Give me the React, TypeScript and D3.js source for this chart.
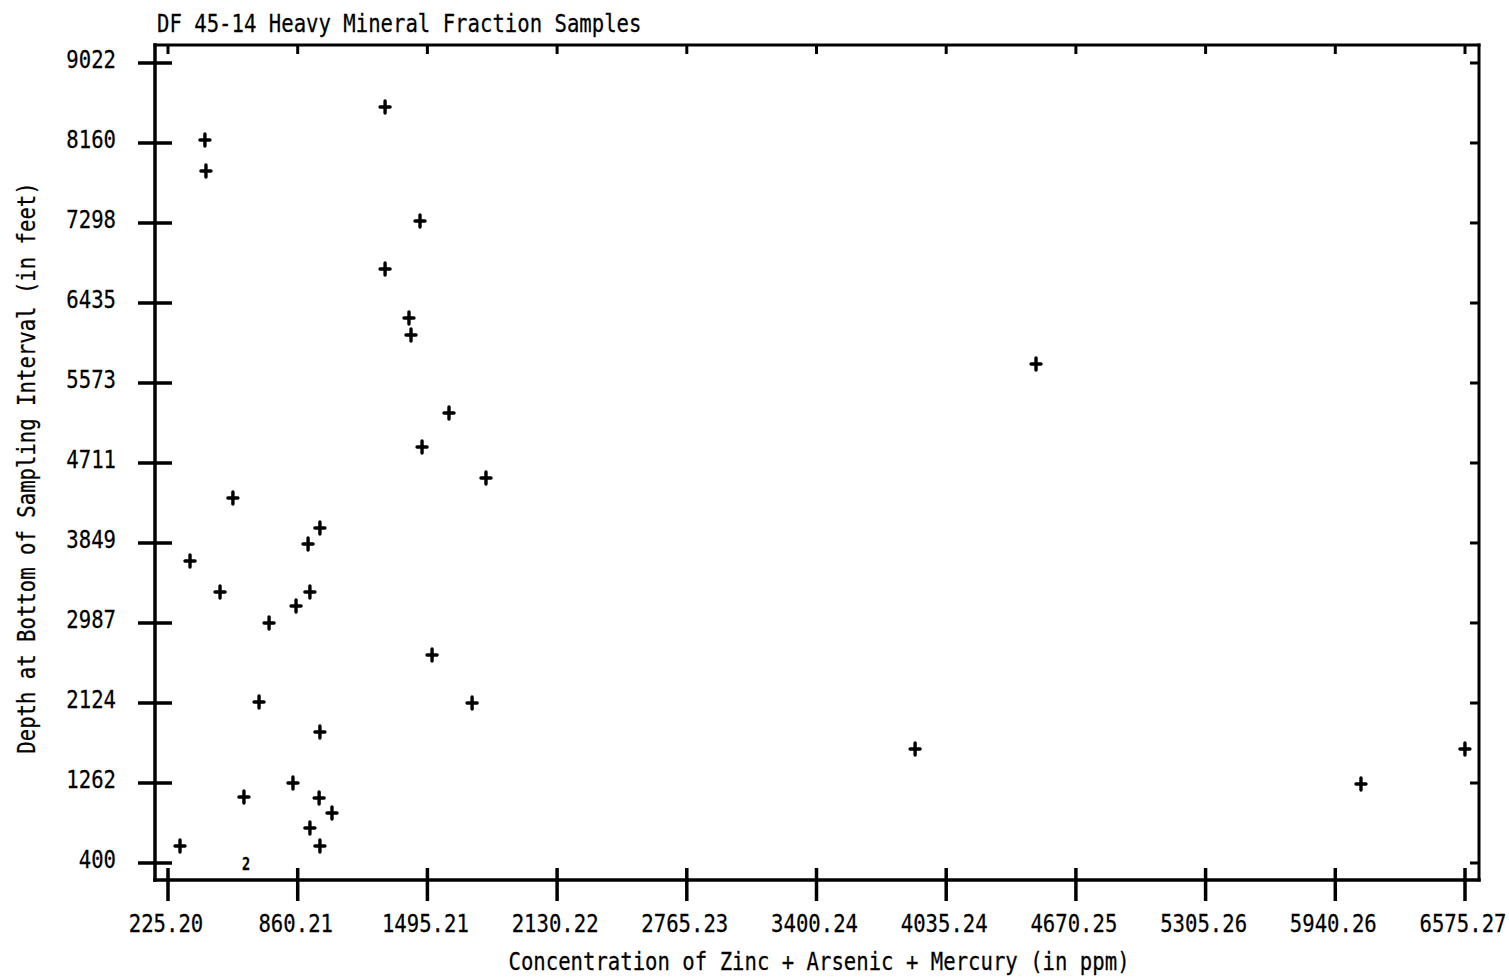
import React from "react";
import * as d3 from "d3";

const title = "DF 45-14 Heavy Mineral Fraction Samples";
const xTitle = "Concentration of Zinc + Arsenic + Mercury (in ppm)";
const yTitle = "Depth at Bottom of Sampling Interval (in feet)";

const xTickValues = [225.2, 860.21, 1495.21, 2130.22, 2765.23, 3400.24, 4035.24, 4670.25, 5305.26, 5940.26, 6575.27];
const xTickLabels = ["225.20", "860.21", "1495.21", "2130.22", "2765.23", "3400.24", "4035.24", "4670.25", "5305.26", "5940.26", "6575.27"];
const yTickValues = [400, 1262, 2124, 2987, 3849, 4711, 5573, 6435, 7298, 8160, 9022];

// sample concentrations (ppm) and depths (feet)
const concentration = [
  406, 411, 1288, 1459, 1288, 1405, 1415, 4475, 1601, 1469, 1782,
  543, 969, 911, 333, 480, 920, 852, 720, 1518, 671, 1714,
  969, 3883, 6575, 837, 6066, 597, 965, 1028, 920, 284, 969,
];
const depth = [
  8192, 7858, 8548, 7319, 6802, 6274, 6091, 5778, 5250, 4883, 4549,
  4334, 4010, 3838, 3655, 3321, 3321, 3170, 2987, 2642, 2135, 2124,
  1812, 1629, 1629, 1262, 1251, 1111, 1101, 939, 777, 583, 583,
];
// overlapping points shown as a count
const overlapConc = [607];
const overlapDepth = [400];
const overlapCount = ["2"];

const FONT = "'DejaVu Sans Mono', monospace";

function T({ x, y, anchor = "start", size = 24, sx = 0.86, rotate = 0, weight = "normal", children }: any) {
  return (
    <text
      transform={`translate(${x},${y}) rotate(${rotate}) scale(${sx},1)`}
      textAnchor={anchor}
      fontFamily={FONT}
      fontSize={size}
      fontWeight={weight}
      fill="#000"
      stroke="#000"
      strokeWidth={0.25}
    >
      {children}
    </text>
  );
}

export default function App() {
  const W = 1509, H = 978;
  const left = 155, right = 1479, top = 45, bottom = 880;
  const x = d3.scaleLinear().domain([225.2, 6575.27]).range([168, 1465]);
  const y = d3.scaleLinear().domain([400, 9022]).range([863, 63]);

  return (
    <svg width={W} height={H} style={{ position: "absolute", left: 0, top: 0, background: "#fff" }}>
      <rect x={0} y={0} width={W} height={H} fill="#fff" />
      <T x={157} y={32}>{title}</T>

      {/* frame */}
      <g stroke="#000" fill="none" strokeLinecap="square">
        <line x1={left} y1={top} x2={right} y2={top} strokeWidth={3} />
        <line x1={right} y1={top} x2={right} y2={bottom} strokeWidth={3} />
        <line x1={left} y1={top} x2={left} y2={bottom} strokeWidth={3.5} />
        <line x1={left} y1={bottom} x2={right} y2={bottom} strokeWidth={3.5} />
      </g>

      {/* x ticks */}
      <g stroke="#000" strokeWidth={3.5}>
        {xTickValues.map((v, i) => (
          <line key={"xb" + i} x1={x(v)} x2={x(v)} y1={868} y2={901} />
        ))}
        {xTickValues.map((v, i) => (
          <line key={"xt" + i} x1={x(v)} x2={x(v)} y1={top} y2={top + 9} strokeWidth={3} />
        ))}
      </g>
      {xTickValues.map((v, i) => (
        <T key={"xl" + i} x={x(v) - 2} y={932} anchor="middle">{xTickLabels[i]}</T>
      ))}

      {/* y ticks */}
      <g stroke="#000" strokeWidth={3.5}>
        {yTickValues.map((v, i) => (
          <line key={"yl" + i} x1={138} x2={172} y1={y(v)} y2={y(v)} />
        ))}
        {yTickValues.map((v, i) => (
          <line key={"yr" + i} x1={right - 9} x2={right} y1={y(v)} y2={y(v)} strokeWidth={3} />
        ))}
      </g>
      {yTickValues.map((v, i) => (
        <T key={"ylab" + i} x={116} y={y(v) + 5} anchor="end">{String(v)}</T>
      ))}

      {/* axis titles */}
      <T x={819} y={970} anchor="middle">{xTitle}</T>
      <T x={35} y={468} anchor="middle" rotate={-90}>{yTitle}</T>

      {/* points */}
      <g stroke="#000" strokeWidth={3.4} strokeLinecap="round">
        {concentration.map((c, i) => {
          const px = x(c), py = y(depth[i]);
          return (
            <g key={"p" + i}>
              <line x1={px - 5} x2={px + 5} y1={py} y2={py} />
              <line x1={px} x2={px} y1={py - 6} y2={py + 6} />
            </g>
          );
        })}
      </g>
      {overlapConc.map((c, i) => (
        <T key={"o" + i} x={x(c)} y={y(overlapDepth[i]) + 7} anchor="middle" size={17} weight="bold" sx={0.8}>
          {overlapCount[i]}
        </T>
      ))}
    </svg>
  );
}
